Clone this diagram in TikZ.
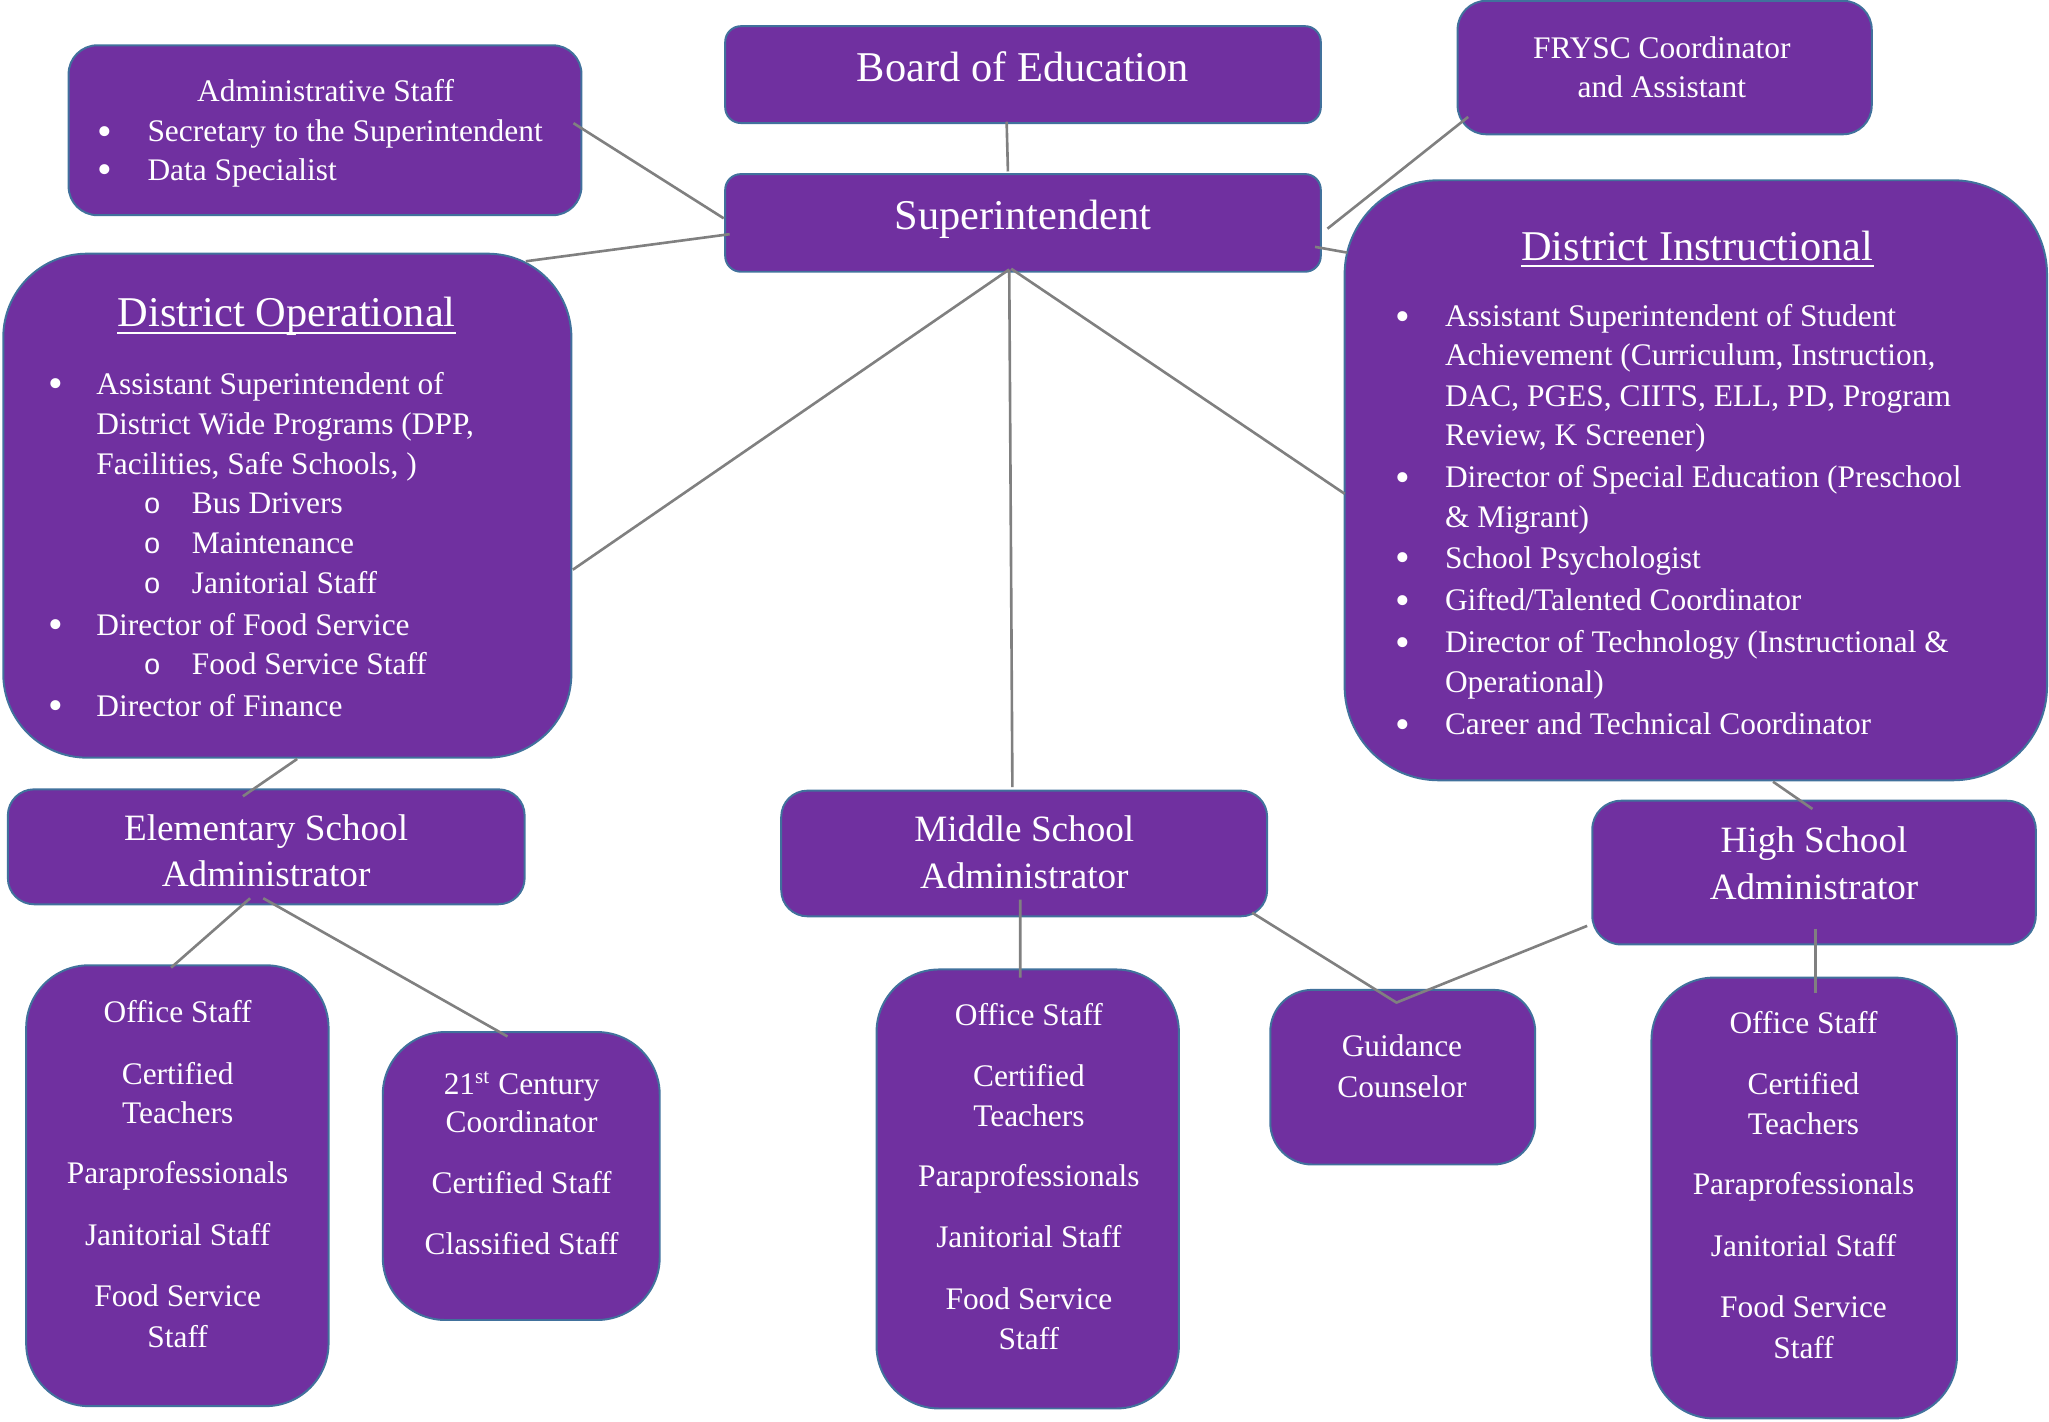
\documentclass[tikz,border=0pt]{standalone}
\usepackage{fontspec}
\setmainfont{Liberation Serif}
\newfontfamily\monofnt{Liberation Mono}
\usetikzlibrary{calc}
\definecolor{purp}{HTML}{7030A0}
\definecolor{bord}{HTML}{41719C}
\definecolor{conn}{HTML}{808080}
\tikzset{
 box/.style={draw=bord, fill=purp, line width=0.75pt, inner sep=0pt, rectangle},
 ln/.style={draw=conn, line width=1pt, line join=round},
 tx/.style={text=white, inner sep=0pt, anchor=base},
 txl/.style={tx, anchor=base west},
 f12/.style={font=\fontsize{12}{14}\selectfont},
 f14/.style={font=\fontsize{14.2}{17}\selectfont},
 f16/.style={font=\fontsize{16.2}{19}\selectfont},
 bul/.style={tx, font=\fontsize{16}{16}\selectfont, yshift=-1.4pt},
 subb/.style={tx, font=\fontsize{11}{14}\monofnt},
}
\begin{document}
\begin{tikzpicture}[x=0.5pt,y=-0.5pt]
\useasboundingbox (0,0) rectangle (1565.3,1085.6);
% ---------------- boxes
\node[box, rounded corners=6pt, minimum width=227.5pt, minimum height=37pt] (board) at (781.5,57) {};
\node[box, rounded corners=6pt, minimum width=227.5pt, minimum height=37.3pt] (sup) at (781.5,170.3) {};
\node[box, rounded corners=11pt, minimum width=195.9pt, minimum height=64.9pt] (admin) at (248.3,99.5) {};
\node[box, rounded corners=11pt, minimum width=158.2pt, minimum height=51pt] (frysc) at (1271.7,51.6) {};
\node[box, rounded corners=32pt, minimum width=217pt, minimum height=192.5pt] (dop) at (219.5,386.3) {};
\node[box, rounded corners=36pt, minimum width=268.3pt, minimum height=229.2pt] (din) at (1295.5,366.9) {};
\node[box, rounded corners=10pt, minimum width=197.4pt, minimum height=43.9pt] (elem) at (203.4,646.9) {};
\node[box, rounded corners=10pt, minimum width=185.6pt, minimum height=48pt] (mid) at (782.4,652) {};
\node[box, rounded corners=11pt, minimum width=169.4pt, minimum height=54.9pt] (high) at (1385.8,666.6) {};
\node[box, rounded corners=24pt, minimum width=115.5pt, minimum height=168.4pt] (estaff) at (135.5,905.8) {};
\node[box, rounded corners=24pt, minimum width=105.8pt, minimum height=110pt] (c21) at (398.2,898.4) {};
\node[box, rounded corners=24pt, minimum width=115.5pt, minimum height=167.7pt] (mstaff) at (785.1,908.3) {};
\node[box, rounded corners=16pt, minimum width=101.2pt, minimum height=66.7pt] (guid) at (1071.6,822.9) {};
\node[box, rounded corners=24pt, minimum width=116.7pt, minimum height=168.4pt] (hstaff) at (1378.3,915.2) {};

% ---------------- texts
\node[tx,f16] (boardt) at (781.5,62.5) {Board of Education};
\node[tx,f16] (supt) at (781.5,175) {Superintendent};

\node[tx,f12] (admt) at (248.7,77.8) {Administrative Staff};
\node[bul] (admb1) at (79.8,108.3) {•};
\node[txl,f12] (adm1) at (112.3,108.3) {Secretary to the Superintendent};
\node[bul] (admb2) at (79.8,137.7) {•};
\node[txl,f12] (adm2) at (112.3,137.7) {Data Specialist};

\node[tx,f12] (fry1) at (1269.5,45) {FRYSC Coordinator};
\node[tx,f12] (fry2) at (1269.5,74.4) {and Assistant};

% District Operational
\node[tx,f16] (dopt) at (219,249.8) {District Operational};
\draw[white, line width=0.7pt] ($(dopt.base west)+(0,4.5)$) -- ($(dopt.base east)+(0,4.5)$);
\node[bul] (dopb1) at (42.4,301) {•};
\node[txl,f12] (dop1) at (73.3,301) {Assistant Superintendent of};
\node[txl,f12] (dop2) at (73.3,332) {District Wide Programs (DPP,};
\node[txl,f12] (dop3) at (73.3,362.5) {Facilities, Safe Schools, )};
\node[subb] (dops4) at (116.3,392.6) {o};
\node[txl,f12] (dop4) at (146.2,392.6) {Bus Drivers};
\node[subb] (dops5) at (116.3,422.7) {o};
\node[txl,f12] (dop5) at (146.2,422.7) {Maintenance};
\node[subb] (dops6) at (116.3,453.1) {o};
\node[txl,f12] (dop6) at (146.2,453.1) {Janitorial Staff};
\node[bul] (dopb7) at (42.4,485.3) {•};
\node[txl,f12] (dop7) at (73.3,485.3) {Director of Food Service};
\node[subb] (dops8) at (116.3,515.4) {o};
\node[txl,f12] (dop8) at (146.2,515.4) {Food Service Staff};
\node[bul] (dopb9) at (42.4,547) {•};
\node[txl,f12] (dop9) at (73.3,547) {Director of Finance};

% District Instructional
\node[tx,f16] (dint) at (1296.7,199) {District Instructional};
\draw[white, line width=0.7pt] ($(dint.base west)+(0,4.5)$) -- ($(dint.base east)+(0,4.5)$);
\node[bul] (dinb1) at (1071.8,249.7) {•};
\node[txl,f12] (din1) at (1103.5,249.7) {Assistant Superintendent of Student};
\node[txl,f12] (din2) at (1103.5,279.5) {Achievement (Curriculum, Instruction,};
\node[txl,f12] (din3) at (1103.5,310.3) {DAC, PGES, CIITS, ELL, PD, Program};
\node[txl,f12] (din4) at (1103.5,340.7) {Review, K Screener)};
\node[bul] (dinb5) at (1071.8,372.5) {•};
\node[txl,f12] (din5) at (1103.5,372.5) {Director of Special Education (Preschool};
\node[txl,f12] (din6) at (1103.5,403) {\& Migrant)};
\node[bul] (dinb7) at (1071.8,434.1) {•};
\node[txl,f12] (din7) at (1103.5,434.1) {School Psychologist};
\node[bul] (dinb8) at (1071.8,466.3) {•};
\node[txl,f12] (din8) at (1103.5,466.3) {Gifted/Talented Coordinator};
\node[bul] (dinb9) at (1071.8,498.8) {•};
\node[txl,f12] (din9) at (1103.5,498.8) {Director of Technology (Instructional \&};
\node[txl,f12] (din10) at (1103.5,529.2) {Operational)};
\node[bul] (dinb11) at (1071.8,561.4) {•};
\node[txl,f12] (din11) at (1103.5,561.4) {Career and Technical Coordinator};

% administrators
\node[tx,f14] (elem1) at (203.3,642.2) {Elementary School};
\node[tx,f14] (elem2) at (203.3,677.5) {Administrator};
\node[tx,f14] (mid1) at (782.5,642.9) {Middle School};
\node[tx,f14] (mid2) at (782.5,678.4) {Administrator};
\node[tx,f14] (high1) at (1385.8,651.5) {High School};
\node[tx,f14] (high2) at (1385.8,687.2) {Administrator};

% staff boxes
\foreach \bx/\cx/\dy in {es/135.7/0, ms/786/2, hs/1377.8/8.3}{
  \node[tx,f12] (\bx1) at (\cx,781.5+\dy) {Office Staff};
  \node[tx,f12] (\bx2) at (\cx,828.2+\dy) {Certified};
  \node[tx,f12] (\bx3) at (\cx,858.3+\dy) {Teachers};
  \node[tx,f12] (\bx4) at (\cx,904.4+\dy) {Paraprofessionals};
  \node[tx,f12] (\bx5) at (\cx,951.2+\dy) {Janitorial Staff};
  \node[tx,f12] (\bx6) at (\cx,998+\dy) {Food Service};
  \node[tx,f12] (\bx7) at (\cx,1029.2+\dy) {Staff};
}
\node[tx,f12] (c211) at (398.5,836.2) {21\textsuperscript{st} Century};
\node[tx,f12] (c212) at (398.5,865.3) {Coordinator};
\node[tx,f12] (c213) at (398.5,911.4) {Certified Staff};
\node[tx,f12] (c214) at (398.5,958.2) {Classified Staff};
\node[tx,f12] (guid1) at (1071,807.4) {Guidance};
\node[tx,f12] (guid2) at (1071,838.6) {Counselor};

% ---------------- connectors
\draw[ln] ($(board)+(-12.5,36)$) -- ($(sup)+(-11.5,-39.3)$);
\draw[ln] ($(admin)+(189.8,-5.4)$) -- ($(sup)+(-228.6,-3.5)$);
\draw[ln] ($(sup)+(-224.1,8.6)$) -- ($(dop)+(182.2,-186.7)$);
\draw[ln] ($(sup)+(-10.6,35.6)$) -- ($(dop)+(218.1,48.9)$);
\draw[ln] ($(sup)+(-10.5,35.7)$) -- ($(mid)+(-9,-50.7)$);
\draw[ln] ($(sup)+(232.6,4.4)$) -- ($(frysc)+(-150.1,37.7)$);
\draw[ln] ($(sup)+(223.1,18.3)$) -- ($(din)+(-266.2,-173.9)$);
\draw[ln] ($(sup)+(-9,35)$) -- ($(din)+(-268.3,10.3)$);
\draw[ln] ($(dop)+(7.5,193.5)$) -- ($(elem)+(-17.8,-38.6)$);
\draw[ln] ($(elem)+(-12.3,39.3)$) -- ($(estaff)+(-4.8,-166.6)$);
\draw[ln] ($(elem)+(-2.3,39.3)$) -- ($(c21)+(-10.5,-106.6)$);
\draw[ln] ($(mid)+(-3,35.2)$) -- ($(mstaff)+(-5.7,-161.5)$);
\draw[ln] ($(mid)+(174.1,45.2)$) -- ($(guid)+(-4.8,-57)$) -- ($(high)+(-173.3,40.7)$);
\draw[ln] ($(din)+(59,230.3)$) -- ($(high)+(-1.2,-48.6)$);
\draw[ln] ($(high)+(1.3,42.8)$) -- ($(hstaff)+(8.8,-156.3)$);
\end{tikzpicture}
\end{document}
